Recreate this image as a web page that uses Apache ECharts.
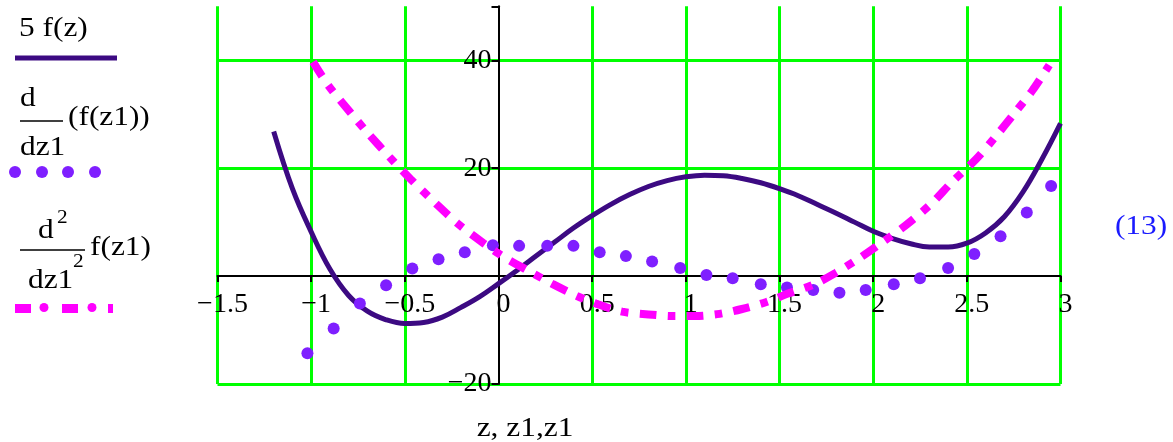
<!DOCTYPE html>
<html>
<head>
<meta charset="utf-8">
<script src="https://cdn.jsdelivr.net/npm/echarts@6/dist/echarts.min.js"></script>
<style>
  html, body { margin: 0; padding: 0; background: #ffffff; }
  #chart { width: 1173px; height: 442px; }
</style>
</head>
<body>
<div id="chart"></div>
<script>
// 5 f(z), sampled along z
const zSamples = [-1.2, -1.1, -1.0, -0.9, -0.8, -0.7, -0.6, -0.5, -0.4, -0.3, -0.2, -0.1, 0.0,
  0.1, 0.2, 0.3, 0.4, 0.5, 0.6, 0.7, 0.8, 0.9, 1.0, 1.1, 1.2, 1.3, 1.4, 1.5, 1.6, 1.7, 1.8,
  1.9, 2.0, 2.1, 2.2, 2.3, 2.4, 2.5, 2.6, 2.7, 2.8, 2.9, 3.0];
const fiveF = [26.8, 16.2, 8.2, 1.3, -3.6, -6.5, -8.1, -8.8, -8.6, -7.6, -5.8, -3.8, -1.4,
  1.1, 3.7, 6.3, 8.9, 11.2, 13.3, 15.1, 16.6, 17.7, 18.4, 18.7, 18.6, 18.1, 17.3, 16.2, 14.9,
  13.3, 11.7, 10.0, 8.3, 7.0, 6.0, 5.4, 5.4, 6.1, 8.0, 11.0, 15.6, 21.6, 28.3];

// d/dz1 (f(z1)), one dot per z1 point
const z1Dots = [-1.02, -0.88, -0.74, -0.60, -0.46, -0.32, -0.18, -0.03, 0.11, 0.26, 0.40,
  0.54, 0.68, 0.82, 0.97, 1.11, 1.25, 1.40, 1.54, 1.68, 1.82, 1.96, 2.11, 2.25, 2.40, 2.54,
  2.68, 2.82, 2.95];
const dF = [-14.3, -9.7, -5.1, -1.7, 1.4, 3.1, 4.4, 5.7, 5.6, 5.6, 5.6, 4.4, 3.7, 2.7, 1.5,
  0.2, -0.4, -1.5, -2.1, -2.6, -3.1, -2.6, -1.5, -0.4, 1.5, 4.1, 7.4, 11.8, 16.7];

// d^2/dz1^2 f(z1)
const z1Curve = [-0.99, -0.91, -0.79, -0.70, -0.58, -0.47, -0.33, -0.22, -0.08, 0.03, 0.18,
  0.29, 0.42, 0.52, 0.66, 0.80, 0.93, 1.05, 1.18, 1.30, 1.43, 1.55, 1.68, 1.80, 1.93, 2.05,
  2.17, 2.31, 2.42, 2.55, 2.65, 2.75, 2.85, 2.94];
const d2F = [39.7, 35.4, 30.3, 26.6, 22.0, 18.0, 13.3, 9.8, 6.1, 3.5, 0.6, -1.5, -3.7, -5.1,
  -6.6, -7.1, -7.4, -7.4, -7.0, -6.1, -4.8, -3.2, -1.6, 0.6, 3.4, 6.3, 9.3, 13.4, 17.4, 21.7,
  25.7, 30.0, 34.4, 39.1];

// axis ranges, tick steps and the values that carry a label
const xRange = [-1.5, 3];
const yRange = [-20, 50];
const xTickStep = 0.5;
const yTickStep = 20;
const yLabelled = [-20, 20, 40];

const SERIF = '"Liberation Serif", "Times New Roman", serif';
const GREEN = '#00ff00';
const NONE = 'rgba(0,0,0,0)';

// plot box, in pixels
const W = 1173, H = 442;
const gridBox = { left: 217.5, right: 112.5, top: 6.3, bottom: 58 };
const plotW = W - gridBox.left - gridBox.right;
const plotH = H - gridBox.top - gridBox.bottom;
// the axes cross at (0, 0): shift each axis from its grid edge to the origin
const xAxisShift = -((0 - yRange[0]) / (yRange[1] - yRange[0])) * plotH;
const yAxisShift = -((0 - xRange[0]) / (xRange[1] - xRange[0])) * plotW;

const pairs = (xs, ys) => xs.map((x, i) => [x, ys[i]]);
const num = v => String(Math.round(v * 100) / 100).replace('-', '\u2212');

const chart = echarts.init(document.getElementById('chart'), null, { renderer: 'canvas' });

const xGridColors = [GREEN, GREEN, GREEN, NONE, GREEN, GREEN, GREEN, GREEN, GREEN, GREEN];
const yGridColors = [GREEN, NONE, GREEN, GREEN];

const TEXT_STRETCH = 1.12;
const txt = (text, x, y, opts = {}) => ({
  type: 'text', x: x, y: y, silent: true, scaleX: TEXT_STRETCH,
  style: Object.assign({
    text: text, font: '28px ' + SERIF, fill: '#000',
    align: 'left', verticalAlign: 'middle'
  }, opts)
});

chart.setOption({
  animation: false,
  backgroundColor: '#ffffff',
  grid: gridBox,
  xAxis: {
    type: 'value', min: xRange[0], max: xRange[1], interval: xTickStep,
    position: 'bottom', offset: xAxisShift,
    axisLine: { onZero: false, lineStyle: { color: '#000', width: 2 } },
    axisTick: { show: true, inside: false, length: 6, lineStyle: { color: '#000', width: 2 } },
    axisLabel: {
      showMinLabel: true, showMaxLabel: true,
      fontFamily: SERIF, fontSize: 28, color: '#000', margin: 15,
      padding: [0, 0, 0, 10],
      formatter: v => num(v)
    },
    splitLine: { show: true, lineStyle: { color: xGridColors, width: 3 } }
  },
  yAxis: {
    type: 'value', min: yRange[0], max: yRange[1], interval: yTickStep,
    position: 'left', offset: yAxisShift,
    axisLine: { onZero: false, lineStyle: { color: '#000', width: 2 } },
    axisTick: { show: true, length: 7, lineStyle: { color: '#000', width: 2 } },
    axisLabel: {
      fontFamily: SERIF, fontSize: 28, color: '#000', margin: 7,
      padding: [7, 0, 0, 0],
      formatter: v => (yLabelled.indexOf(v) >= 0 ? num(v) : '')
    },
    splitLine: { show: true, showMaxLine: false, lineStyle: { color: yGridColors, width: 3 } }
  },
  series: [
    {
      name: '5 f(z)', type: 'line', smooth: 0.4, symbol: 'none', z: 3,
      data: pairs(zSamples, fiveF),
      lineStyle: { color: '#3c0a82', width: 5 }
    },
    {
      name: 'd/dz1 (f(z1))', type: 'scatter', symbol: 'circle', symbolSize: 12, z: 4,
      data: pairs(z1Dots, dF),
      itemStyle: { color: '#7f1fff', opacity: 1 }
    },
    {
      name: 'd2/dz1^2 f(z1)', type: 'line', smooth: 0.3, symbol: 'none', z: 5,
      data: pairs(z1Curve, d2F),
      lineStyle: { color: '#ff00ff', width: 8, type: [17, 11, 8, 11], cap: 'butt' }
    }
  ],
  graphic: [
    // legend: 5 f(z)
    txt('5 f(z)', 19, 29),
    { type: 'line', silent: true, shape: { x1: 15, y1: 58, x2: 117, y2: 58 },
      style: { stroke: '#3c0a82', lineWidth: 5 } },
    // legend: d/dz1 (f(z1))
    txt('d', 20, 99),
    { type: 'line', silent: true, shape: { x1: 20, y1: 121, x2: 63, y2: 121 },
      style: { stroke: '#000', lineWidth: 1.5 } },
    txt('dz1', 20, 148),
    txt('(f(z1))', 68, 118),
    { type: 'circle', silent: true, shape: { cx: 15, cy: 172, r: 6 }, style: { fill: '#7f1fff' } },
    { type: 'circle', silent: true, shape: { cx: 42, cy: 172, r: 6 }, style: { fill: '#7f1fff' } },
    { type: 'circle', silent: true, shape: { cx: 68, cy: 172, r: 6 }, style: { fill: '#7f1fff' } },
    { type: 'circle', silent: true, shape: { cx: 95, cy: 172, r: 6 }, style: { fill: '#7f1fff' } },
    // legend: d^2/dz1^2 f(z1)
    txt('d', 38, 231),
    txt('2', 57, 218, { font: '19px ' + SERIF }),
    { type: 'line', silent: true, shape: { x1: 20, y1: 250, x2: 85, y2: 250 },
      style: { stroke: '#000', lineWidth: 1.5 } },
    txt('dz1', 28, 281),
    txt('2', 73, 262, { font: '19px ' + SERIF }),
    txt('f(z1)', 90, 248),
    { type: 'rect', silent: true, shape: { x: 15, y: 304, width: 16, height: 9 }, style: { fill: '#ff00ff' } },
    { type: 'circle', silent: true, shape: { cx: 44, cy: 307.5, r: 4.5 }, style: { fill: '#ff00ff' } },
    { type: 'rect', silent: true, shape: { x: 62, y: 304, width: 16, height: 9 }, style: { fill: '#ff00ff' } },
    { type: 'circle', silent: true, shape: { cx: 92, cy: 307.5, r: 4.5 }, style: { fill: '#ff00ff' } },
    { type: 'rect', silent: true, shape: { x: 108, y: 304, width: 5, height: 9 }, style: { fill: '#ff00ff' } },
    // axis title and equation number
    txt('z, z1,z1', 525, 429, { align: 'center' }),
    txt('(13)', 1141, 227, { align: 'center', fill: '#1a1aff' })
  ]
});
</script>
</body>
</html>
